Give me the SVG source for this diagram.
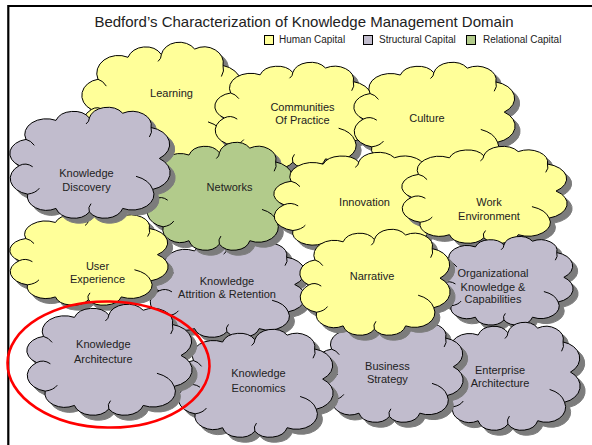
<svg xmlns="http://www.w3.org/2000/svg" xmlns:xlink="http://www.w3.org/1999/xlink" width="592" height="445" viewBox="0 0 592 445">
<style>
.c{stroke:#000;stroke-width:1;stroke-linejoin:round}
.y{fill:#FFFF99}.p{fill:#C1BCCD}.g{fill:#B2CB8B}
.ia{fill:none;stroke:#000;stroke-width:1}
.t{font-family:"Liberation Sans",Arial,sans-serif;font-size:11px;fill:#222;text-anchor:middle}
.lg{font-family:"Liberation Sans",Arial,sans-serif;font-size:10px;fill:#222}
.sq{stroke:#000;stroke-width:1}
</style>
<defs>
<path id="cloud" vector-effect="non-scaling-stroke" d="M8 52 A12 12 0 0 1 12 30 A13 13 0 0 1 30 14 A11 11 0 0 1 50 12 A11 11 0 0 1 70 8 A11.5 11.5 0 0 1 87 20 A14.5 14.5 0 0 1 92 46 A14.5 14.5 0 0 1 88 72 A13 13 0 0 1 70 88 A11 11 0 0 1 50 91 A11 11 0 0 1 30 88 A11.5 11.5 0 0 1 13 76 A13.5 13.5 0 0 1 8 52 Z"/>
<path id="arcs" vector-effect="non-scaling-stroke" d="M8 52 Q12 49 16 53 M12 30 Q15 31 17 35 M50 12 Q50 15 48 17 M87 20 Q88 24 86 28 M88 72 Q86 64 78 61 M50 91 Q49 87 51 84 M13 76 Q18 75 20 71"/>
<filter id="sh" x="-5%" y="-5%" width="115%" height="115%" color-interpolation-filters="sRGB">
<feOffset in="SourceAlpha" dx="4.5" dy="4.5" result="o"/>
<feGaussianBlur in="o" stdDeviation="0.6" result="b"/>
<feFlood flood-color="#7c7c7c"/>
<feComposite in2="b" operator="in" result="s"/>
<feMerge><feMergeNode in="s"/><feMergeNode in="SourceGraphic"/></feMerge>
</filter>
</defs>
<rect width="592" height="445" fill="#fff"/>
<path d="M8.3 445 V6 H592" fill="none" stroke="#000" stroke-width="2.2"/>
<text x="304" y="27.3" font-family="Liberation Sans, Arial, sans-serif" font-size="15" fill="#222" text-anchor="middle">Bedford’s Characterization of Knowledge Management Domain</text>
<g id="legend">
<rect class="sq y" x="264.5" y="35.5" width="9" height="9"/><text class="lg" x="279" y="42.5">Human Capital</text>
<rect class="sq p" x="363.5" y="35.5" width="9" height="9"/><text class="lg" x="379" y="42.5">Structural Capital</text>
<rect class="sq g" x="466.5" y="35.5" width="9" height="9"/><text class="lg" x="483" y="42.5">Relational Capital</text>
</g>
<g id="connectors"/>
<g id="learning">
<g filter="url(#sh)"><use href="#cloud" class="c y" transform="matrix(1.667 0 0 1.374 78 38.05)"/></g>
<use href="#arcs" class="ia" transform="matrix(1.667 0 0 1.374 78 38.05)"/>
<text class="t" x="171.5" y="97">Learning</text>
</g>
<g id="communities">
<g filter="url(#sh)"><use href="#cloud" class="c y" transform="matrix(1.635 0 0 1.136 211.08 58.91)"/></g>
<use href="#arcs" class="ia" transform="matrix(1.635 0 0 1.136 211.08 58.91)"/>
<text class="t" x="302.5" y="111">Communities</text><text class="t" x="302.5" y="123.5">Of Practice</text>
</g>
<g id="culture">
<g filter="url(#sh)"><use href="#cloud" class="c y" transform="matrix(1.677 0 0 1.158 349.98 58.83)"/></g>
<use href="#arcs" class="ia" transform="matrix(1.677 0 0 1.158 349.98 58.83)"/>
<text class="t" x="427" y="122">Culture</text>
</g>
<g id="attrition">
<g filter="url(#sh)"><use href="#cloud" class="c p" transform="matrix(1.615 0 0 1.05 146.12 236.22)"/></g>
<use href="#arcs" class="ia" transform="matrix(1.615 0 0 1.05 146.12 236.22)"/>
<text class="t" x="227" y="285">Knowledge</text><text class="t" x="227" y="298.3">Attrition &amp; Retention</text>
</g>
<g id="networks">
<g filter="url(#sh)"><use href="#cloud" class="c g" transform="matrix(1.521 0 0 1.158 143.35 138.83)"/></g>
<use href="#arcs" class="ia" transform="matrix(1.521 0 0 1.158 143.35 138.83)"/>
<text class="t" x="229.5" y="190.7">Networks</text>
</g>
<g id="innovation">
<g filter="url(#sh)"><use href="#cloud" class="c y" transform="matrix(1.781 0 0 1.071 269.72 149.14)"/></g>
<use href="#arcs" class="ia" transform="matrix(1.781 0 0 1.071 269.72 149.14)"/>
<text class="t" x="364.5" y="206">Innovation</text>
</g>
<g id="work-environment">
<g filter="url(#sh)"><use href="#cloud" class="c y" transform="matrix(1.719 0 0 1.039 397.87 143.26)"/></g>
<use href="#arcs" class="ia" transform="matrix(1.719 0 0 1.039 397.87 143.26)"/>
<text class="t" x="489" y="205.7">Work</text><text class="t" x="489" y="220">Environment</text>
</g>
<g id="user-experience">
<g filter="url(#sh)"><use href="#cloud" class="c y" transform="matrix(1.646 0 0 1.006 6.05 208.38)"/></g>
<use href="#arcs" class="ia" transform="matrix(1.646 0 0 1.006 6.05 208.38)"/>
<text class="t" x="97.5" y="270">User</text><text class="t" x="97.5" y="283.3">Experience</text>
</g>
<g id="discovery">
<g filter="url(#sh)"><use href="#cloud" class="c p" transform="matrix(1.667 0 0 1.19 6 103.71)"/></g>
<use href="#arcs" class="ia" transform="matrix(1.667 0 0 1.19 6 103.71)"/>
<text class="t" x="86.5" y="177.3">Knowledge</text><text class="t" x="86.5" y="190.7">Discovery</text>
</g>
<g id="organizational">
<g filter="url(#sh)"><use href="#cloud" class="c p" transform="matrix(1.427 0 0 0.95 432.58 233.6)"/></g>
<use href="#arcs" class="ia" transform="matrix(1.427 0 0 0.95 432.58 233.6)"/>
<text class="t" x="493" y="277.3">Organizational</text><text class="t" x="493" y="290.7">Knowledge &amp;</text><text class="t" x="493" y="303.3">Capabilities</text>
</g>
<g id="enterprise">
<g filter="url(#sh)"><use href="#cloud" class="c p" transform="matrix(1.49 0 0 1.158 433.42 318.83)"/></g>
<use href="#arcs" class="ia" transform="matrix(1.49 0 0 1.158 433.42 318.83)"/>
<text class="t" x="500" y="374">Enterprise</text><text class="t" x="500" y="387.3">Architecture</text>
</g>
<g id="business">
<g filter="url(#sh)"><use href="#cloud" class="c p" transform="matrix(1.521 0 0 1.104 313.35 316.03)"/></g>
<use href="#arcs" class="ia" transform="matrix(1.521 0 0 1.104 313.35 316.03)"/>
<text class="t" x="387.4" y="370">Business</text><text class="t" x="387.4" y="383.3">Strategy</text>
</g>
<g id="narrative">
<g filter="url(#sh)"><use href="#cloud" class="c y" transform="matrix(1.5625 0 0 1.136 296.25 225.91)"/></g>
<use href="#arcs" class="ia" transform="matrix(1.5625 0 0 1.136 296.25 225.91)"/>
<text class="t" x="372" y="280">Narrative</text>
</g>
<g id="economics">
<g filter="url(#sh)"><use href="#cloud" class="c p" transform="matrix(1.615 0 0 1.158 174.12 325.83)"/></g>
<use href="#arcs" class="ia" transform="matrix(1.615 0 0 1.158 174.12 325.83)"/>
<text class="t" x="258.5" y="377.3">Knowledge</text><text class="t" x="258.5" y="391.7">Economics</text>
</g>
<g id="architecture">
<g filter="url(#sh)"><use href="#cloud" class="c p" transform="matrix(1.719 0 0 1.19 22.87 300.71)"/></g>
<use href="#arcs" class="ia" transform="matrix(1.719 0 0 1.19 22.87 300.71)"/>
<text class="t" x="103.3" y="348.3">Knowledge</text><text class="t" x="103.3" y="362.7">Architecture</text>
</g>
<ellipse id="highlight" cx="108.5" cy="364.5" rx="101" ry="63" transform="rotate(1 108.5 364.5)" fill="none" stroke="#ff0000" stroke-width="2.6"/>
</svg>
